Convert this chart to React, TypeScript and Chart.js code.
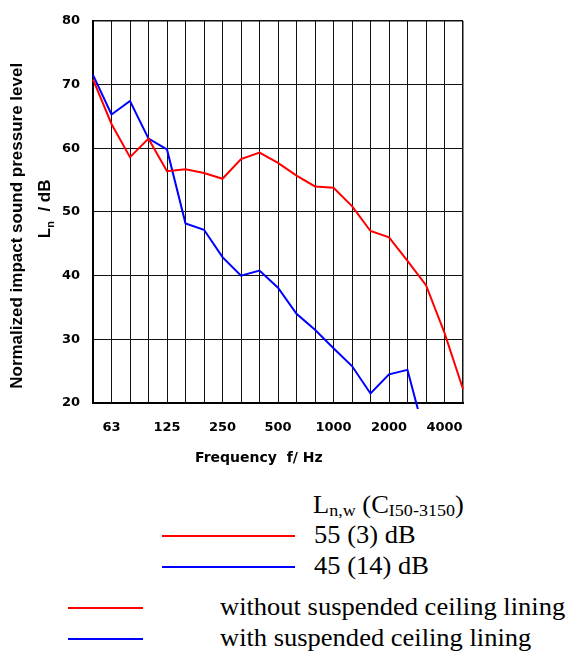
import React, { useEffect, useRef } from 'react';
import { Chart, registerables } from 'chart.js';

Chart.register(...registerables);

// Third-octave band centre frequencies (Hz)
const frequencies = ['50', '63', '80', '100', '125', '160', '200', '250', '315', '400', '500', '630', '800', '1000', '1250', '1600', '2000', '2500', '3150', '4000', '5000'];
const shownFrequencyLabels = ['63', '125', '250', '500', '1000', '2000', '4000'];

// Normalized impact sound pressure level Ln (dB)
const withoutLining = [70.8, 63.8, 58.6, 61.5, 56.4, 56.7, 56.1, 55.2, 58.3, 59.3, 57.7, 55.7, 54.0, 53.8, 50.9, 47.0, 46.0, 42.3, 38.5, 31.0, 22.2];
const withLining = [71.5, 65.3, 67.4, 61.5, 59.8, 48.2, 47.2, 42.9, 40.0, 40.8, 38.1, 34.0, 31.5, 28.6, 25.8, 21.5, 24.5, 25.2, 14.2, null, null];

const yMin = 20;
const yMax = 80;
const yStep = 10;

const TICK_FONT = { family: '"DejaVu Sans", sans-serif', size: 13, weight: 'bold' as const };

const axisTitles = {
  id: 'axisTitles',
  afterDraw(chart: any) {
    const { ctx, chartArea } = chart;
    ctx.save();
    ctx.fillStyle = '#000';
    ctx.textBaseline = 'alphabetic';

    // Y title line 1
    ctx.save();
    ctx.translate(chartArea.left - 71, chartArea.top + 205);
    ctx.rotate(-Math.PI / 2);
    ctx.font = 'bold 17px "Liberation Sans", Arial, sans-serif';
    ctx.textAlign = 'center';
    ctx.fillText('Normalized impact sound pressure level', 0, 0);
    ctx.restore();

    // Y title line 2: L_n / dB
    ctx.save();
    ctx.translate(chartArea.left - 43, chartArea.top + 188);
    ctx.rotate(-Math.PI / 2);
    ctx.textAlign = 'left';
    const big = 'bold 17px "Liberation Sans", Arial, sans-serif';
    const small = 'bold 11px "Liberation Sans", Arial, sans-serif';
    ctx.font = big;
    const wL = ctx.measureText('L').width;
    const rest = '  / dB';
    const wRest = ctx.measureText(rest).width;
    ctx.font = small;
    const wn = ctx.measureText('n').width;
    const total = wL + wn + wRest;
    let x = -total / 2;
    ctx.font = big;
    ctx.fillText('L', x, 0);
    x += wL;
    ctx.font = small;
    ctx.fillText('n', x, 4);
    x += wn;
    ctx.font = big;
    ctx.fillText(rest, x, 0);
    ctx.restore();

    // X title
    ctx.font = 'bold 14px "DejaVu Sans", sans-serif';
    ctx.textAlign = 'left';
    ctx.fillText('Frequency  f/ Hz', chartArea.left + 102, chartArea.bottom + 58.5);

    ctx.restore();
  },
};

function ChartCanvas() {
  const ref = useRef<HTMLCanvasElement | null>(null);
  useEffect(() => {
    if (!ref.current) return;
    const chart = new Chart(ref.current, {
      type: 'line',
      data: {
        labels: frequencies,
        datasets: [
          {
            label: 'without suspended ceiling lining',
            data: withoutLining,
            borderColor: '#ff0000',
            backgroundColor: '#ff0000',
            borderWidth: 2,
            pointRadius: 0,
            tension: 0,
            clip: { left: 1, top: 1, right: 1, bottom: 6 } as any,
          },
          {
            label: 'with suspended ceiling lining',
            data: withLining,
            borderColor: '#0000ff',
            backgroundColor: '#0000ff',
            borderWidth: 2,
            pointRadius: 0,
            tension: 0,
            spanGaps: false,
            clip: { left: 1, top: 1, right: 1, bottom: 6 } as any,
          },
        ],
      },
      options: {
        responsive: false,
        animation: false,
        devicePixelRatio: 1,
        layout: { padding: { top: 13, right: 105, left: 0, bottom: 0 } },
        plugins: {
          legend: { display: false },
          tooltip: { enabled: false },
          title: { display: false },
        },
        scales: {
          x: {
            type: 'category',
            offset: false,
            grid: {
              drawTicks: false,
              color: '#111',
              lineWidth: (c: any) => (c.index === frequencies.length - 1 ? 1.5 : 1),
            },
            border: { display: true, color: '#000', width: 2 },
            ticks: {
              autoSkip: false,
              maxRotation: 0,
              minRotation: 0,
              padding: 17,
              color: '#000',
              font: TICK_FONT,
              callback: (_v: any, i: number) =>
                shownFrequencyLabels.includes(frequencies[i]) ? frequencies[i] : '',
            },
            afterFit: (scale: any) => {
              scale.height = 77;
            },
          },
          y: {
            min: yMin,
            max: yMax,
            grid: {
              drawTicks: false,
              color: '#111',
              lineWidth: (c: any) => (c.tick && c.tick.value === yMax ? 1.5 : 1),
            },
            border: { display: true, color: '#000', width: 2 },
            ticks: {
              stepSize: yStep,
              padding: 13,
              color: '#000',
              font: TICK_FONT,
            },
            afterFit: (scale: any) => {
              scale.width = 93;
            },
          },
        },
      },
      plugins: [axisTitles],
    });
    return () => chart.destroy();
  }, []);
  return <canvas ref={ref} width={568} height={480} style={{ position: 'absolute', left: 0, top: 0 }} />;
}

const legendText: React.CSSProperties = {
  position: 'absolute',
  fontFamily: '"Liberation Serif", "Times New Roman", serif',
  fontSize: 25,
  lineHeight: '25px',
  whiteSpace: 'nowrap',
  transform: 'scaleX(1.06)',
  transformOrigin: 'left top',
  color: '#000',
};

const sub: React.CSSProperties = { fontSize: 17, position: 'relative', top: 3 };

function LegendLine({ x, y, w, color }: { x: number; y: number; w: number; color: string }) {
  return (
    <div style={{ position: 'absolute', left: x, top: y - 1, width: w, height: 2, background: color }} />
  );
}

export default function App() {
  return (
    <div style={{ position: 'fixed', left: 0, top: 0, width: 568, height: 651, background: '#fff', overflow: 'hidden' }}>
      <ChartCanvas />
      <div style={{ ...legendText, left: 313, top: 492 }}>
        L<span style={sub}>n,w</span> (C<span style={sub}>I50-3150</span>)
      </div>
      <LegendLine x={162} y={536} w={133} color="#ff0000" />
      <div style={{ ...legendText, left: 314, top: 522 }}>55 (3) dB</div>
      <LegendLine x={162} y={567} w={133} color="#0000ff" />
      <div style={{ ...legendText, left: 314, top: 553 }}>45 (14) dB</div>
      <LegendLine x={68} y={608} w={75} color="#ff0000" />
      <div style={{ ...legendText, left: 220, top: 594 }}>without suspended ceiling lining</div>
      <LegendLine x={68} y={639} w={75} color="#0000ff" />
      <div style={{ ...legendText, left: 220, top: 625 }}>with suspended ceiling lining</div>
    </div>
  );
}
